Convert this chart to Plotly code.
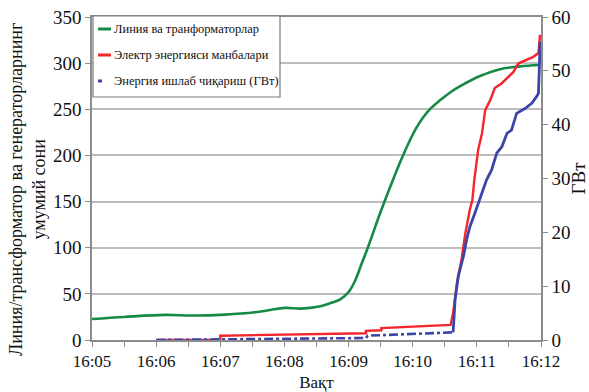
import plotly.graph_objects as go

# ---- data (time in minutes after 16:00) ----
tick_vals = [5, 6, 7, 8, 9, 10, 11, 12]
tick_text = ["16:05", "16:06", "16:07", "16:08", "16:09", "16:10", "16:11", "16:12"]

green_t = [5.0, 5.5, 6.13, 6.6, 7.07, 7.54, 8.01, 8.25, 8.54, 8.72, 8.87, 9.0, 9.1, 9.2, 9.3,
           9.49, 9.65, 9.8, 9.96, 10.05, 10.15, 10.28, 10.43, 10.6, 10.74, 11.05, 11.36, 11.67, 11.98]
green_v = [22.8, 25, 27.2, 26.5, 27.5, 30, 34.8, 34, 36.2, 40, 44, 52, 64, 82, 100,
           137, 166, 192, 217, 229, 240, 251, 260, 269, 275, 286, 293.5, 296.5, 298]

red_t = [6.0, 7.0, 7.0, 8.0, 9.0, 9.27, 9.27, 9.51, 9.51, 10.0, 10.59,
         10.63, 10.69, 10.76, 10.82, 10.89, 10.93, 10.96, 11.02, 11.08, 11.13, 11.21,
         11.28, 11.39, 11.49, 11.57, 11.65, 11.78, 11.88, 11.96, 11.985]
red_v = [0, 0, 0.8, 0.95, 1.1, 1.24, 1.7, 1.8, 2.2, 2.45, 2.8,
         5, 10.6, 14.9, 19.8, 24.2, 26, 29.7, 35.3, 38.4, 42.7, 44.6,
         46.8, 47.7, 48.9, 49.8, 51.4, 52, 52.6, 53.3, 56.7]

blue_low_t = [6.0, 7.0, 8.0, 9.0, 9.27, 9.3, 9.5, 10.0, 10.3, 10.63]
blue_low_v = [0, 0.1, 0.15, 0.3, 0.37, 0.8, 0.9, 1.1, 1.3, 1.42]

blue_high_t = [10.63, 10.66, 10.71, 10.79, 10.84, 10.89, 10.97, 11.02, 11.08, 11.15, 11.23,
               11.31, 11.39, 11.47, 11.54, 11.62, 11.75, 11.86, 11.93, 11.96, 11.975, 11.985]
blue_high_v = [1.42, 7.4, 11.8, 15.5, 18.6, 21, 23.6, 25.4, 27.3, 29.7, 31.6,
               34.7, 35.9, 38.4, 39, 42.1, 43, 44, 45.2, 45.8, 50.8, 55.4]

legend_names = ["Линия ва транформаторлар", "Электр энергияси манбалари",
                "Энергия ишлаб чиқариш (ГВт)"]
y_title = "Линия/трансформатор ва генераторларнинг<br>умумий сони"
y2_title = "ГВт"
x_title = "Вақт"

GREEN = "#148a45"
RED = "#f2262b"
BLUE = "#3b45a8"
FONT = "Liberation Serif, Times New Roman, Times, serif"
AX = "#8c8c8c"
TXT = "#111111"

fig = go.Figure()
fig.add_trace(go.Scatter(x=green_t, y=green_v, mode="lines",
                         line=dict(color=GREEN, width=2.6, shape="spline", smoothing=1.0),
                         name=legend_names[0], showlegend=False))
fig.add_trace(go.Scatter(x=red_t, y=red_v, mode="lines", line=dict(color=RED, width=2.4),
                         name=legend_names[1], yaxis="y2", showlegend=False))
fig.add_trace(go.Scatter(x=blue_low_t, y=blue_low_v, mode="lines",
                         line=dict(color=BLUE, width=2.6, dash="dashdot"),
                         name=legend_names[2], yaxis="y2", showlegend=False))
fig.add_trace(go.Scatter(x=blue_high_t, y=blue_high_v, mode="lines", line=dict(color=BLUE, width=2.8),
                         name=legend_names[2], yaxis="y2", showlegend=False))

# manual legend (short line samples as in the reference); coordinates in screen px
x0p, x1p = 92, 541
y0p, y1p = 340, 17


def px(x):
    return (x - x0p) / (x1p - x0p)


def py(y):
    return (y0p - y) / (y0p - y1p)


shapes = [dict(type="rect", xref="paper", yref="paper", x0=px(93), x1=px(280), y0=py(97), y1=py(16),
               line=dict(color="#7a7a7a", width=1.2), fillcolor="white", layer="above")]
samples = [(GREEN, 98, 111, 29), (RED, 98, 111, 55), (BLUE, 98, 102, 81)]
annotations = []
for (c, xa, xb, yy), name in zip(samples, legend_names):
    shapes.append(dict(type="line", xref="paper", yref="paper", x0=px(xa), x1=px(xb), y0=py(yy), y1=py(yy),
                       line=dict(color=c, width=3), layer="above"))
    annotations.append(dict(xref="paper", yref="paper", x=px(112), y=py(yy), text=name, showarrow=False,
                            xanchor="left", yanchor="middle",
                            font=dict(family=FONT, size=12.5, color=TXT)))

# left axis title as rotated annotation (placed like the reference)
annotations.append(dict(xref="paper", yref="paper", x=px(27), y=py(190), text=y_title, showarrow=False,
                        textangle=-90, xanchor="center", yanchor="middle",
                        font=dict(family=FONT, size=18, color=TXT)))

fig.update_layout(
    width=589, height=392,
    margin=dict(l=92, r=48, t=17, b=52, autoexpand=False),
    paper_bgcolor="white", plot_bgcolor="white",
    font=dict(family=FONT, size=17, color=TXT),
    showlegend=False,
    shapes=shapes, annotations=annotations,
    xaxis=dict(range=[5, 12], tickvals=tick_vals, ticktext=tick_text, showgrid=False, automargin=False,
               showline=True, mirror=True, linecolor=AX, linewidth=1.5, ticks="outside", ticklen=5,
               tickcolor=AX, tickfont=dict(family=FONT, size=17, color=TXT),
               ticklabeloverflow="allow",
               minor=dict(tickvals=[5.5, 6.5, 7.5, 8.5, 9.5, 10.5, 11.5], ticks="outside",
                          ticklen=5, tickcolor=AX),
               title=dict(text=x_title, font=dict(family=FONT, size=17, color=TXT), standoff=14),
               zeroline=False),
    yaxis=dict(range=[0, 350], dtick=50, showgrid=True, gridcolor="#bdbdbd", gridwidth=1.5, automargin=False,
               showline=True, linecolor=AX, linewidth=1.5, ticks="outside", ticklen=5,
               ticklabeloverflow="allow",
               tickcolor=AX, zeroline=False, tickfont=dict(family=FONT, size=19, color=TXT)),
    yaxis2=dict(range=[0, 60], dtick=10, overlaying="y", side="right", showgrid=False, automargin=False,
                showline=True, linecolor=AX, linewidth=1.5, ticks="outside", ticklen=5,
                ticklabeloverflow="allow",
                tickcolor=AX, zeroline=False, tickfont=dict(family=FONT, size=19, color=TXT),
                title=dict(text=y2_title, font=dict(family=FONT, size=19, color=TXT), standoff=6)),
)

fig.write_html("out.html", config={"displayModeBar": False},
               post_script="document.body.style.margin='0';document.body.style.padding='0';")
